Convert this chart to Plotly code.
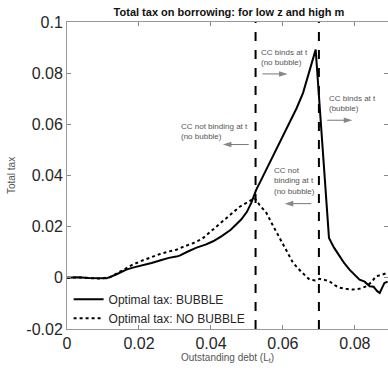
import plotly.graph_objects as go

# ---- data ----
x_bubble = [0, 0.003, 0.006, 0.009, 0.011, 0.0135, 0.0165, 0.0183, 0.021, 0.0235, 0.0258,
            0.0283, 0.0304, 0.0313, 0.0336, 0.036, 0.0385, 0.0406, 0.043, 0.0455, 0.0484,
            0.05, 0.0512, 0.0526, 0.054, 0.0554, 0.0572, 0.0582, 0.06, 0.0619, 0.0638,
            0.0656, 0.0668, 0.0679, 0.0691, 0.0728, 0.0742, 0.0758, 0.077,
            0.0785, 0.08, 0.0813, 0.0827, 0.0841, 0.0852, 0.0862, 0.0869, 0.0876, 0.0882, 0.0891]
y_bubble = [0, 0.0002, -0.0001, -0.0003, -0.0002, 0.0012, 0.0032, 0.0040, 0.0048, 0.0058, 0.0068,
            0.0078, 0.0083, 0.0087, 0.0103, 0.0118, 0.0130, 0.0143, 0.0163, 0.0188, 0.0228,
            0.0258, 0.0293, 0.0345, 0.0384, 0.0423, 0.0475, 0.0501, 0.0553, 0.0605, 0.0663,
            0.0723, 0.0780, 0.0840, 0.0892, 0.0156, 0.0118, 0.0084, 0.0058,
            0.0032, 0.0010, -0.0007, -0.0015, -0.0033, -0.0035, -0.0052, -0.0059, -0.0040, -0.0020, -0.0015]

x_nobubble = [0, 0.003, 0.006, 0.009, 0.0119, 0.015, 0.0183, 0.021, 0.0235, 0.026, 0.0283,
              0.0304, 0.033, 0.035, 0.0375, 0.0406, 0.043, 0.0452, 0.048, 0.05, 0.0512, 0.0521,
              0.0535, 0.0554, 0.0572, 0.0591, 0.0605, 0.0628, 0.065, 0.0674, 0.069, 0.0702,
              0.0715, 0.0729, 0.0745, 0.0758, 0.0775, 0.0794, 0.0812, 0.0832, 0.0845, 0.0859,
              0.0875, 0.0891]
y_nobubble = [0, 0.0002, -0.0001, -0.0003, 0.0002, 0.0025, 0.0052, 0.0068, 0.0082, 0.0094, 0.0103,
              0.0110, 0.0125, 0.0135, 0.0152, 0.0189, 0.0218, 0.0247, 0.0278, 0.0294, 0.0306, 0.0312,
              0.0285, 0.0254, 0.0205, 0.0155, 0.0120, 0.0059, 0.0025, -0.0007, -0.0010, -0.0004,
              -0.0008, -0.0013, -0.0030, -0.0039, -0.0043, -0.0046, -0.0043, -0.0033, -0.0018, 0.0006,
              0.0012, 0.0020]

vlines_x = [0.0524, 0.0700]

x_tickvals = [0, 0.02, 0.04, 0.06, 0.08]
x_ticktext = ["0", "0.02", "0.04", "0.06", "0.08"]
y_tickvals = [-0.02, 0, 0.02, 0.04, 0.06, 0.08, 0.1]
y_ticktext = ["-0.02", "0", "0.02", "0.04", "0.06", "0.08", "0.1"]

notes = [
    # text, x, y, arrow_from_x, arrow_to_x, arrow_y
    ("CC binds at t<br>(no bubble)", 0.0533, 0.0861, 0.0543, 0.0613, 0.0797),
    ("CC binds at t<br>(bubble)", 0.0723, 0.0682, 0.0723, 0.0793, 0.0616),
    ("CC not binding at t<br>(no bubble)", 0.0311, 0.0571, 0.0505, 0.0433, 0.0521),
    ("CC not<br>binding at t<br>(no bubble)", 0.0569, 0.0380, 0.0679, 0.0605, 0.0290),
]

FONT = "Liberation Sans, Arial, Helvetica, sans-serif"

fig = go.Figure()
fig.add_trace(go.Scatter(x=x_bubble, y=y_bubble, mode="lines", name="Optimal tax: BUBBLE",
                         line=dict(color="black", width=2)))
fig.add_trace(go.Scatter(x=x_nobubble, y=y_nobubble, mode="lines", name="Optimal tax: NO BUBBLE",
                         line=dict(color="black", width=2, dash="dot")))

for vx in vlines_x:
    fig.add_shape(type="line", xref="x", yref="paper", x0=vx, x1=vx, y0=0, y1=1,
                  line=dict(color="black", width=2, dash="dash"))

for text, tx, ty, ax0, ax1, ay in notes:
    fig.add_annotation(x=tx, y=ty, xref="x", yref="y", text=text, showarrow=False,
                       xanchor="left", yanchor="middle", align="left",
                       font=dict(family=FONT, size=8, color="#555555"))
    fig.add_trace(go.Scatter(x=[ax0, ax1], y=[ay, ay], mode="lines+markers", showlegend=False,
                             hoverinfo="skip", line=dict(color="#777777", width=1),
                             marker=dict(symbol="arrow", size=[0, 9], angleref="previous",
                                         color="#555555", line=dict(width=0))))

fig.update_layout(
    width=388, height=371,
    margin=dict(l=67, r=0, t=22, b=42, autoexpand=False),
    paper_bgcolor="white", plot_bgcolor="white",
    font=dict(family=FONT, color="#262626"),
    title=dict(text="<b>Total tax on borrowing: for low z and high m</b>",
               x=229 / 388, xanchor="center", xref="container",
               y=1 - 12 / 371, yanchor="middle", yref="container",
               font=dict(size=11, color="#111111"), automargin=False),
    showlegend=True,
    legend=dict(x=0.005, y=-0.012, xanchor="left", yanchor="bottom", bgcolor="rgba(0,0,0,0)",
                font=dict(size=12, color="#262626"), itemwidth=30, tracegroupgap=0),
    xaxis=dict(range=[0, 0.0892], tickvals=x_tickvals, ticktext=x_ticktext, automargin=False,
               ticks="inside", ticklen=4, tickcolor="#888888", showgrid=False, zeroline=False,
               showline=True, linecolor="#999999", linewidth=1, mirror="ticks",
               tickfont=dict(size=16, color="#262626"),
               title=dict(text="Outstanding debt (L<sub>t</sub>)", font=dict(size=10, color="#555555"),
                          standoff=2)),
    yaxis=dict(range=[-0.02, 0.1], tickvals=y_tickvals, ticktext=y_ticktext, automargin=False,
               ticks="inside", ticklen=4, tickcolor="#888888", showgrid=False, zeroline=False,
               showline=True, linecolor="#999999", linewidth=1, mirror="ticks",
               tickfont=dict(size=16, color="#262626"),
               title=dict(text="Total tax", font=dict(size=10, color="#555555"), standoff=8)),
)

fig.write_html("out.html", config={"displayModeBar": False},
               post_script="document.body.style.margin='0';document.body.style.overflow='hidden';")
